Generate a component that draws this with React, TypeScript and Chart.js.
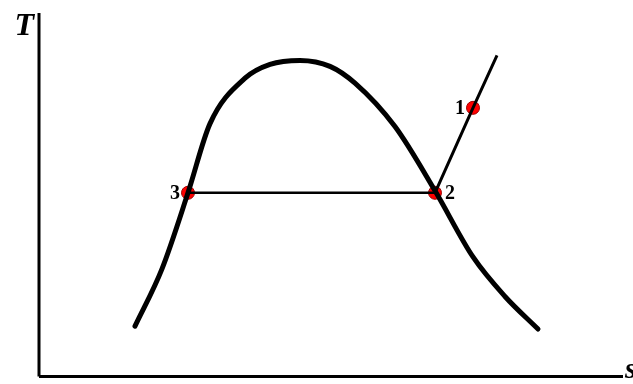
import React, { useEffect, useRef } from "react";
import { Chart, registerables } from "chart.js";

Chart.register(...registerables);

// Saturation dome (entropy s, temperature T), arbitrary units
const domeS = [96, 123, 149, 171, 206, 231, 261, 291, 316, 356, 396, 434, 466, 499];
const domeT = [51, 109, 186, 256, 302, 316, 320, 314, 297, 253, 188, 121, 81, 48];

// Process line 3 -> 2 (isothermal) and superheated line 2 -> 1 -> beyond
const isoS = [149, 396];
const isoT = [186, 186];
const superS = [396, 434, 458];
const superT = [186, 272, 325];

// State points
const stateLabels = ["1", "2", "3"];
const stateS = [434, 396, 149];
const stateT = [272, 186, 186];

const axisMaxS = 584;
const axisMaxT = 368;
const xAxisLabel = "s";
const yAxisLabel = "T";

const serif = '"Liberation Serif", "Times New Roman", serif';

const labelPlugin = {
  id: "labels",
  afterDatasetsDraw(chart: any) {
    const { ctx, chartArea, scales } = chart;
    ctx.save();
    ctx.fillStyle = "#000";
    // axis titles
    ctx.font = `bold italic 32px ${serif}`;
    ctx.textAlign = "right";
    ctx.textBaseline = "alphabetic";
    ctx.fillText(yAxisLabel, chartArea.left - 5, chartArea.top + 22);
    ctx.font = `bold italic 30px ${serif}`;
    ctx.textAlign = "left";
    ctx.fillText(xAxisLabel, chartArea.right + 2, chartArea.bottom + 1);
    // state labels
    ctx.font = `bold 20px ${serif}`;
    ctx.textBaseline = "middle";
    stateLabels.forEach((lab, i) => {
      const px = scales.x.getPixelForValue(stateS[i]);
      const py = scales.y.getPixelForValue(stateT[i]);
      if (lab === "2") {
        ctx.textAlign = "left";
        ctx.fillText(lab, px + 10, py + 1);
      } else {
        ctx.textAlign = "right";
        ctx.fillText(lab, px - 8, py + 1);
      }
    });
    ctx.restore();
  },
};

export default function App() {
  const ref = useRef<HTMLCanvasElement>(null);
  useEffect(() => {
    if (!ref.current) return;
    const xy = (xs: number[], ys: number[]) => xs.map((x, i) => ({ x, y: ys[i] }));
    const chart = new Chart(ref.current, {
      type: "line",
      data: {
        datasets: [
          {
            data: xy([0, 0], [0, axisMaxT]),
            borderColor: "#000",
            borderWidth: 3,
            pointRadius: 0,
            clip: false as any,
          },
          {
            data: xy([0, axisMaxS], [0, 0]),
            borderColor: "#000",
            borderWidth: 3,
            pointRadius: 0,
            clip: false as any,
          },
          {
            data: xy(domeS, domeT),
            borderColor: "#000",
            borderWidth: 5,
            pointRadius: 0,
            cubicInterpolationMode: "monotone",
            borderCapStyle: "round",
            clip: false as any,
          },
          {
            data: xy(isoS, isoT),
            borderColor: "#000",
            borderWidth: 2.5,
            pointRadius: 0,
            clip: false as any,
          },
          {
            data: xy(superS, superT),
            borderColor: "#000",
            borderWidth: 3,
            pointRadius: 0,
            clip: false as any,
          },
          {
            type: "scatter" as any,
            data: xy(stateS, stateT),
            showLine: false,
            pointRadius: 6.5,
            pointBackgroundColor: "#ff0000",
            pointBorderColor: "#a00000",
            pointBorderWidth: 1,
            clip: false as any,
          },
        ],
      },
      options: {
        animation: false,
        responsive: false,
        devicePixelRatio: 1,
        layout: { padding: { left: 39, top: 13, right: 10, bottom: 3 } },
        plugins: { legend: { display: false }, tooltip: { enabled: false } },
        scales: {
          x: { type: "linear", display: false, min: 0, max: axisMaxS },
          y: { type: "linear", display: false, min: 0, max: axisMaxT },
        },
      },
      plugins: [labelPlugin],
    });
    return () => chart.destroy();
  }, []);
  return (
    <div style={{ position: "fixed", left: 0, top: 0, width: 633, height: 384, background: "#fff" }}>
      <canvas ref={ref} width={633} height={384} style={{ display: "block" }} />
    </div>
  );
}
